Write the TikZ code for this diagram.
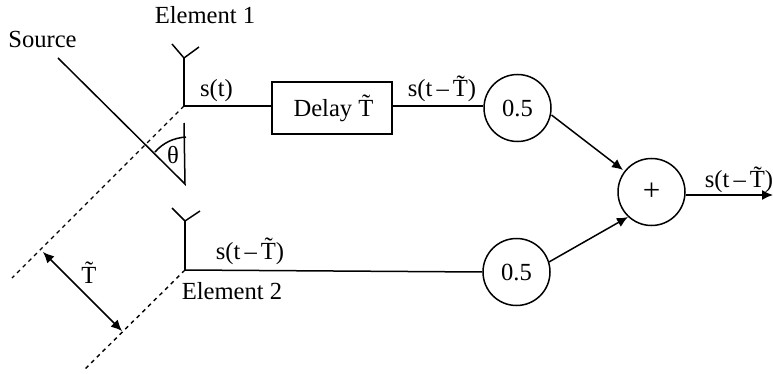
\documentclass[tikz,border=0pt]{standalone}
\usepackage{fontspec}
\setmainfont{Liberation Serif}
\usetikzlibrary{arrows.meta}
\newcommand{\Tt}{\~{T}}
\newcommand{\stT}{s(t\,–\,\Tt)}
\tikzset{
  x=1pt,y=-1pt,
  wire/.style={draw=black,line width=1.5pt},
  dash wire/.style={draw=black,line width=1.4pt,dash pattern=on 4pt off 4pt},
  arrow wire/.style={wire,-{Latex[length=11pt,width=10pt]}},
  both wire/.style={wire,{Latex[length=11pt,width=10pt]}-{Latex[length=11pt,width=10pt]}},
  lbl/.style={inner sep=0pt,anchor=base,font=\fontsize{24.6}{28}\selectfont},
  gain/.style={draw=black,line width=1.5pt,circle,inner sep=0pt,minimum size=67pt,font=\fontsize{24.6}{28}\selectfont},
  delaybox/.style={draw=black,line width=1.5pt,rectangle,inner sep=0pt,minimum width=120pt,minimum height=52pt,font=\fontsize{24.6}{28}\selectfont},
}
\begin{document}
\begin{tikzpicture}
\useasboundingbox (0,0) rectangle (773,374);
% nodes
\node[delaybox] (delay) at (332,108) {\hspace{3pt}Delay \Tt};
\node[gain] (g1) at (517.5,108) {0.5};
\node[gain] (g2) at (516.5,272) {0.5};
\node[gain] (sum) at (651.5,192) {\raisebox{-3pt}{\fontsize{31}{31}\selectfont +}};
% named points
\coordinate (a1) at (184,106);
\coordinate (a1top) at (184,58);
\coordinate (a1l) at (172,44);
\coordinate (a1r) at (199,47);
\coordinate (a2) at (185,270);
\coordinate (a2top) at (185,221);
\coordinate (a2l) at (172,208);
\coordinate (a2r) at (200,211);
\coordinate (src) at (58,58);
\coordinate (apex) at (185,184);
\coordinate (vert) at (184,123);
\coordinate (d1) at (12,278);
\coordinate (d2) at (85,369);
\coordinate (tl) at (43,252);
\coordinate (tr) at (122,331);
\coordinate (out) at (773,195);
% antennas
\draw[wire] (a1l) -- (a1top) -- (a1r);
\draw[wire] (a1top) -- (a1);
\draw[wire] (a2l) -- (a2top) -- (a2r);
\draw[wire] (a2top) -- (a2);
% connections
\draw[wire] (a1) -- (delay.west |- a1);
\draw[wire] (delay.east |- a1) -- (g1.west |- a1);
\draw[wire] (a2) -- (g2.west);
\draw[arrow wire] (551.5,115) -- (623,170);
\draw[arrow wire] (549,262) -- (628,217);
\draw[arrow wire] (sum.east |- out) -- (out);
% geometry
\draw[wire] (src) -- (apex) -- (vert);
\draw[wire] (155,152) .. controls (163,143) and (173,138) .. (186,137);
\draw[dash wire] (a1) -- (d1);
\draw[dash wire] (a2) -- (d2);
\draw[both wire] (tl) -- (tr);
% labels
\node[lbl] (l1) at (205,24) {Element 1};
\node[lbl] (l2) at (232,299) {Element 2};
\node[lbl] (l3) at (42.5,48) {Source};
\node[lbl] (l4) at (216.5,97) {s(t)};
\node[lbl] (l5) at (442,97) {\stT};
\node[lbl] (l6) at (250,259) {\stT};
\node[lbl] (l7) at (739,188) {\stT};
\node[lbl] (l8) at (173,164) {θ};
\node[lbl] (l9) at (89,283) {\Tt};
\end{tikzpicture}
\end{document}
